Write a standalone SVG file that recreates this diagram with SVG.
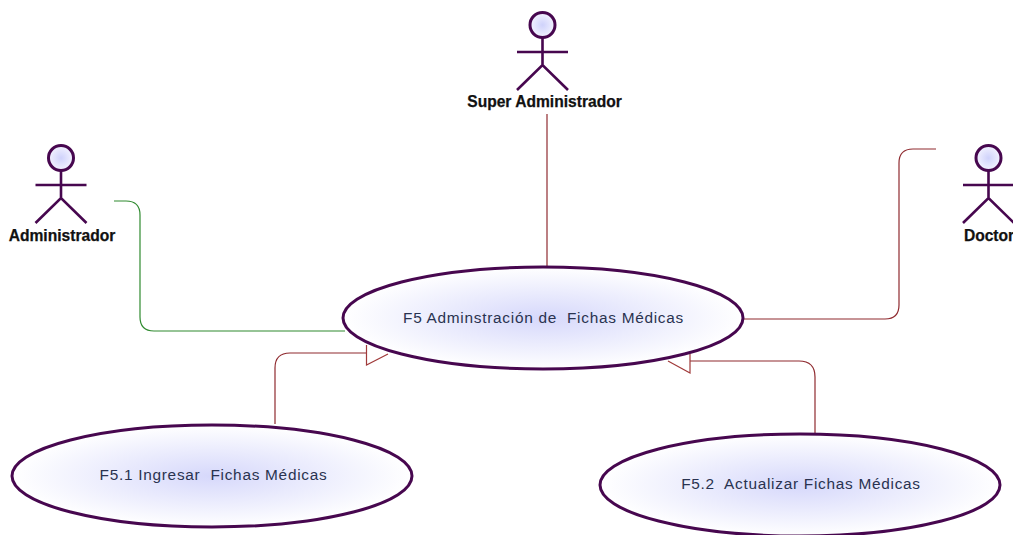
<svg xmlns="http://www.w3.org/2000/svg" width="1013" height="535" viewBox="0 0 1013 535">
<style>
.uc{stroke:#47074f;stroke-width:3;fill:url(#g)}
.head{stroke:#47074f;stroke-width:3;fill:url(#g2)}
.st{stroke:#47074f;stroke-width:2.6;fill:none}
.c{fill:none;stroke:#8f2a2f;stroke-width:1.2}
.g{fill:none;stroke:#2f8a2f;stroke-width:1.2}
.tri{fill:#fff;stroke:#a03a3a;stroke-width:1.2}
.a{font:bold 15.6px "Liberation Sans",Arial,sans-serif;fill:#111;text-anchor:middle;stroke:#111;stroke-width:.25}
.u{font:15.4px "Liberation Sans",Arial,sans-serif;fill:#2a3350;text-anchor:middle;letter-spacing:.72px;white-space:pre}
</style>
<defs>
<radialGradient id="g"><stop offset="0" stop-color="#d6d8fb"/><stop offset="1" stop-color="#fff"/></radialGradient>
<radialGradient id="g2"><stop offset="0" stop-color="#cfd2fb"/><stop offset="1" stop-color="#f3f3ff"/></radialGradient>
<g id="actor">
<circle class="head" cx="0" cy="12" r="12.5"/>
<path class="st" d="M0 25V52M-25.500 39H25.500M-25.500 77L0 52L25.500 77"/>
</g>
</defs>
<g id="connectors">
<path class="c" d="M547 114V267"/>
<path class="g" d="M114 201H126Q140 201 140 215V317Q140 331 154 331H345"/>
<path class="c" d="M743 319H885Q899 319 899 305V163Q899 149 913 149H936"/>
<path class="c" d="M275 424V368Q275 353 290 353H367"/>
<path class="c" d="M815 434V377Q815 361 799 361H690"/>
<path class="tri" d="M366.500 345V365L388 354"/>
<path class="tri" d="M690 354V373L668 361"/>
</g>
<g id="actor-super"><use href="#actor" x="542.500" y="13"/><text class="a" x="544.500" y="107">Super Administrador</text></g>
<g id="actor-admin"><use href="#actor" x="61" y="146"/><text class="a" x="62" y="241">Administrador</text></g>
<g id="actor-doctor"><use href="#actor" x="988.500" y="146"/><text class="a" x="989" y="241">Doctor</text></g>
<g id="uc-f5"><ellipse class="uc" cx="543" cy="318" rx="200" ry="51"/><text class="u" x="543.500" y="323" xml:space="preserve">F5 Adminstración de  Fichas Médicas</text></g>
<g id="uc-f51"><ellipse class="uc" cx="212" cy="476" rx="200" ry="51"/><text class="u" x="213.500" y="480" xml:space="preserve">F5.1 Ingresar  Fichas Médicas</text></g>
<g id="uc-f52"><ellipse class="uc" cx="800" cy="485" rx="200" ry="51"/><text class="u" x="801" y="489" xml:space="preserve">F5.2  Actualizar Fichas Médicas</text></g>
</svg>
